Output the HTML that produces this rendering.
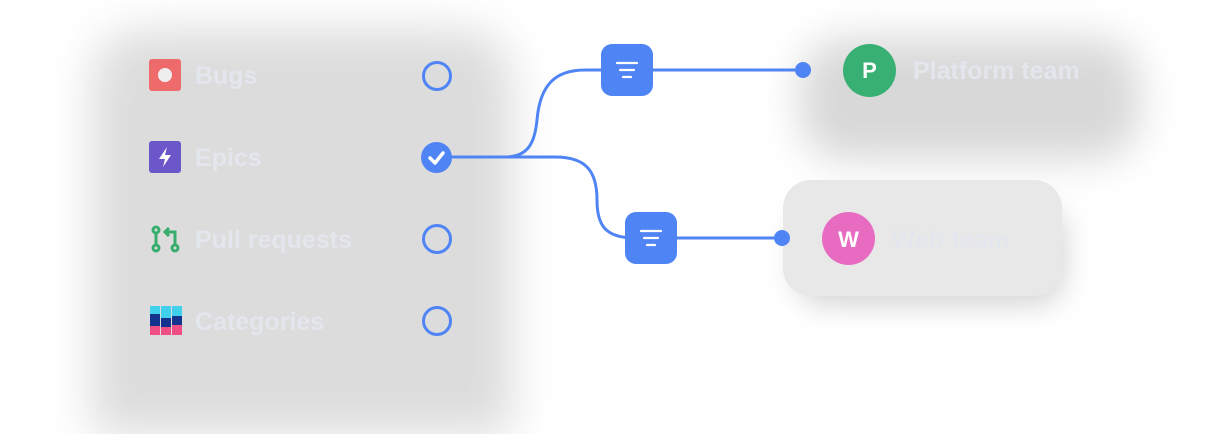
<!DOCTYPE html>
<html style="overflow:hidden;height:434px"><head><style>
html,body{margin:0;width:1232px;height:434px;overflow:hidden}
body{background:#fff;position:relative;font-family:"Liberation Sans",sans-serif}
.blur{position:absolute;background:#dcdcdc;filter:blur(18px)}
.lbl{position:absolute;font-size:25px;font-weight:bold;color:#e4e6ee}
.ring{position:absolute;width:24px;height:24px;border:3px solid #4f84f5;border-radius:50%}
.btn{position:absolute;width:52px;height:52px;background:#4f84f5;border-radius:11px}
</style></head><body>
<div style="position:absolute;left:0;top:0;width:1232px;height:434px;overflow:hidden">
<div class="blur" style="left:92px;top:30px;width:420px;height:404px;border-radius:50px 50px 0 0;filter:blur(22px)"></div>
<div class="blur" style="left:800px;top:38px;width:340px;height:122px;border-radius:45px;background:#d8d8d8;filter:blur(20px)"></div>
<div class="blur" style="left:795px;top:205px;width:270px;height:100px;border-radius:30px;background:#d4d4d4;filter:blur(14px)"></div>
<div style="position:absolute;left:783px;top:180px;width:279px;height:116px;background:#e8e8e8;border-radius:28px"></div>

<div style="position:absolute;left:149px;top:59px;width:32px;height:32px;background:#ef6b6b;border-radius:3px"></div>
<div style="position:absolute;left:158px;top:68px;width:14px;height:14px;background:#eee;border-radius:50%"></div>
<div class="lbl" style="left:195px;top:62px">Bugs</div>
<div class="ring" style="left:422px;top:61px"></div>

<div style="position:absolute;left:149px;top:141px;width:32px;height:32px;background:#6b57c9;border-radius:3px"></div>
<svg style="position:absolute;left:149px;top:141px" width="32" height="32"><path d="M18 6 L10 18 H16 L14 26 L22 14 H16 Z" fill="#fff"/></svg>
<div class="lbl" style="left:195px;top:144px">Epics</div>
<div style="position:absolute;left:421px;top:142px;width:31px;height:31px;background:#4f84f5;border-radius:50%"></div>
<svg style="position:absolute;left:421px;top:142px" width="31" height="31"><path d="M9 16 L14 21 L22 11" stroke="#fff" stroke-width="3.5" fill="none" stroke-linecap="round" stroke-linejoin="round"/></svg>

<svg style="position:absolute;left:0;top:0" width="1232" height="434">
<g stroke="#37ad6d" stroke-width="3" fill="none"><circle cx="156" cy="230" r="3"/><circle cx="156" cy="248" r="3"/><line x1="156" y1="233" x2="156" y2="245"/><circle cx="175" cy="248" r="3"/><path d="M175 245 V232 H166 M169 228 L165 232 L169 236"/></g>
<rect x="150" y="306" width="10" height="8" fill="#40d0ec"/><rect x="161" y="306" width="10" height="12" fill="#40d0ec"/><rect x="172" y="306" width="10" height="10" fill="#40d0ec"/>
<rect x="150" y="314" width="10" height="12" fill="#13338c"/><rect x="161" y="318" width="10" height="9" fill="#13338c"/><rect x="172" y="316" width="10" height="9" fill="#13338c"/>
<rect x="150" y="326" width="10" height="9" fill="#ef4f85"/><rect x="161" y="327" width="10" height="8" fill="#ef4f85"/><rect x="172" y="325" width="10" height="10" fill="#ef4f85"/>
<g stroke="#4f84f5" stroke-width="3" fill="none">
<path d="M450 157 H505 C530 157 535 140 537 120 C540 85 555 70 585 70 H803"/>
<path d="M505 157 H555 C585 157 597 170 597 200 C597 225 605 238 635 238 H782"/>
</g>
<circle cx="803" cy="70" r="8" fill="#4f84f5"/><circle cx="782" cy="238" r="8" fill="#4f84f5"/>
</svg>
<div class="lbl" style="left:195px;top:226px">Pull requests</div>
<div class="ring" style="left:422px;top:224px"></div>
<div class="lbl" style="left:195px;top:308px">Categories</div>
<div class="ring" style="left:422px;top:306px"></div>

<div class="btn" style="left:601px;top:44px"></div>
<div class="btn" style="left:625px;top:212px"></div>
<svg style="position:absolute;left:0;top:0" width="1232" height="434"><g stroke="#fff" stroke-width="2.2" stroke-linecap="round">
<line x1="617" y1="63" x2="637" y2="63"/><line x1="620" y1="70" x2="634" y2="70"/><line x1="623" y1="77" x2="631" y2="77"/>
<line x1="641" y1="231" x2="661" y2="231"/><line x1="644" y1="238" x2="658" y2="238"/><line x1="647" y1="245" x2="655" y2="245"/></g></svg>

<div style="position:absolute;left:843px;top:44px;width:53px;height:53px;border-radius:50%;background:#39b073;color:#fff;font-weight:bold;font-size:22px;text-align:center;line-height:53px">P</div>
<div class="lbl" style="left:913px;top:57px">Platform team</div>
<div style="position:absolute;left:822px;top:212px;width:53px;height:53px;border-radius:50%;background:#e86bc2;color:#fff;font-weight:bold;font-size:22px;text-align:center;line-height:55px">W</div>
<div class="lbl" style="left:892px;top:226px">Web team</div>
</div>
</body></html>
